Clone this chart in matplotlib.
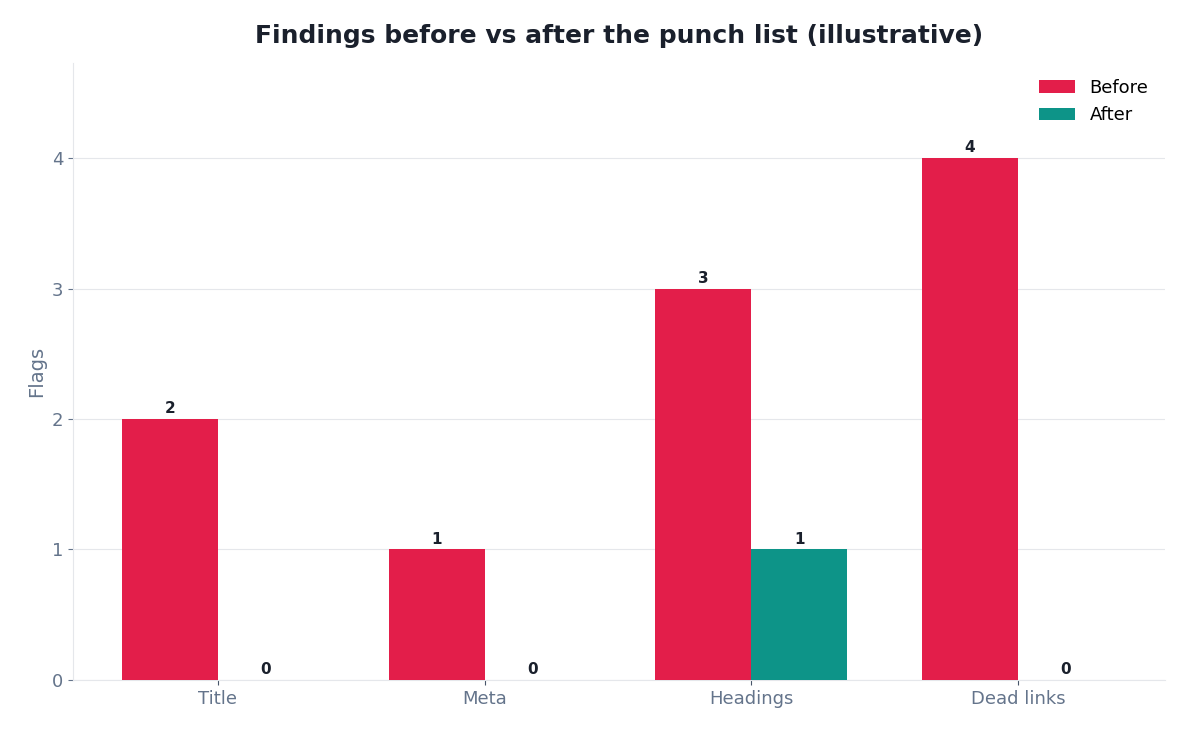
import matplotlib
matplotlib.use("Agg")
import matplotlib.pyplot as plt
import numpy as np

categories = ["Title", "Meta", "Headings", "Dead links"]
before = [2, 1, 3, 4]
after = [0, 0, 1, 0]

fig, ax = plt.subplots(figsize=(11.8, 7.31), dpi=100)
fig.subplots_adjust(left=0.062, right=0.987, top=0.914, bottom=0.07)

x = np.arange(len(categories))
w = 0.36
b1 = ax.bar(x - w / 2, before, w, color="#e31e4a", label="Before", zorder=3)
b2 = ax.bar(x + w / 2, after, w, color="#0d9488", label="After", zorder=3)
for bars in (b1, b2):
    for r in bars:
        ax.annotate(f"{int(r.get_height())}", (r.get_x() + r.get_width() / 2, r.get_height()),
                    xytext=(0, 2), textcoords="offset points", ha="center", va="bottom",
                    fontsize=11, fontweight="bold", color="#1a202c")

ax.set_xticks(x)
ax.set_xticklabels(categories)
ax.set_xlim(-0.543, 3.55)
ax.set_ylim(0, 4.73)
ax.set_yticks([0, 1, 2, 3, 4])
ax.set_ylabel("Flags", fontsize=14, color="#64748b")
ax.set_title("Findings before vs after the punch list (illustrative)", fontsize=18,
             fontweight="bold", color="#1a202c", pad=14)
ax.tick_params(colors="#64748b", labelsize=13)
ax.tick_params(axis="x", color="#475569")
ax.grid(axis="y", color="#e5e7eb", zorder=0)
for s in ("top", "right"):
    ax.spines[s].set_visible(False)
for s in ("left", "bottom"):
    ax.spines[s].set_color("#e5e7eb")
ax.legend(frameon=False, fontsize=13, loc="upper right")

fig.savefig("out.png")
